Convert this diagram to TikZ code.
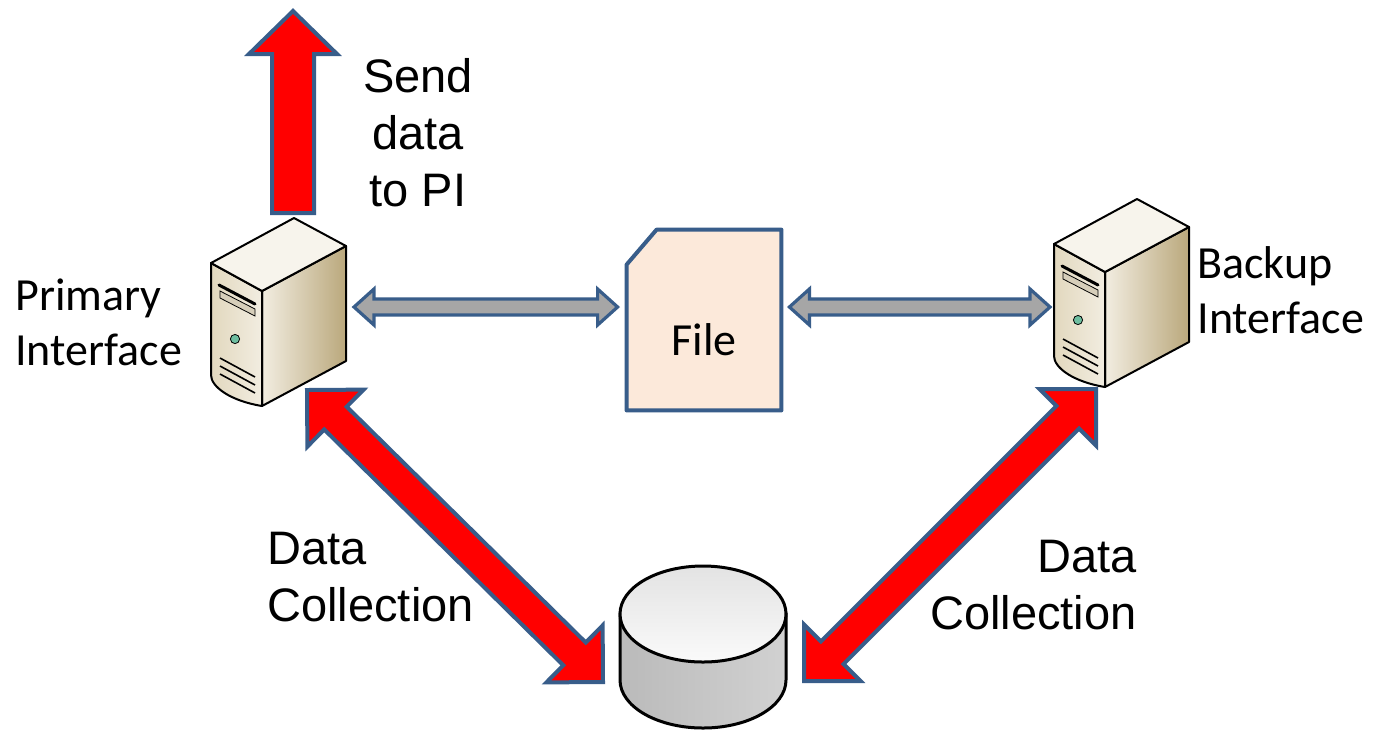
\documentclass[tikz,border=0pt]{standalone}
\usepackage{fontspec}
\setmainfont{Liberation Sans}
\newfontfamily\calibrifont{Carlito}
\usetikzlibrary{calc,backgrounds}

\definecolor{outlineblue}{RGB}{56,93,138}
\definecolor{arrowred}{RGB}{255,0,0}
\definecolor{arrowgray}{RGB}{166,166,166}
\definecolor{filefill}{RGB}{252,233,218}
\definecolor{servertop}{RGB}{247,244,236}
\definecolor{serverlight}{RGB}{242,237,225}
\definecolor{serverfront}{RGB}{226,216,190}
\definecolor{serverdark}{RGB}{186,168,124}
\definecolor{serverslot}{RGB}{214,206,186}
\definecolor{ledgreen}{RGB}{110,190,160}

% fat arrow: style, tail, tip, head length, head half width, shaft half width
\newcommand{\blockarrow}[6]{%
	\coordinate (ba-h) at ($(#3)!#4!(#2)$);
	\draw[#1] (#3) -- ($(ba-h)!#5!90:(#2)$) -- ($(ba-h)!#6!90:(#2)$)
		-- ($(#2)!#6!-90:(#3)$) -- ($(#2)!#6!90:(#3)$)
		-- ($(ba-h)!#6!-90:(#2)$) -- ($(ba-h)!#5!-90:(#2)$) -- cycle;
}
% fat double arrow: style, end a, end b, head length, head half width, shaft half width
\newcommand{\blockdarrow}[6]{%
	\coordinate (bd-a) at ($(#2)!#4!(#3)$);
	\coordinate (bd-b) at ($(#3)!#4!(#2)$);
	\draw[#1] (#2) -- ($(bd-a)!#5!90:(#3)$) -- ($(bd-a)!#6!90:(#3)$)
		-- ($(bd-b)!#6!-90:(#2)$) -- ($(bd-b)!#5!-90:(#2)$) -- (#3)
		-- ($(bd-b)!#5!90:(#2)$) -- ($(bd-b)!#6!90:(#2)$)
		-- ($(bd-a)!#6!-90:(#3)$) -- ($(bd-a)!#5!-90:(#3)$) -- cycle;
}

\begin{document}
\begin{tikzpicture}[x=0.5pt, y=-0.5pt]
	\tikzset{redarrow/.style={
		fill=arrowred, draw=outlineblue, line width=2pt
	}}
	\tikzset{grayarrow/.style={
		fill=arrowgray, draw=outlineblue, line width=1.6pt
	}}
	\tikzset{filebox/.style={
		fill=filefill, draw=outlineblue, line width=2pt, line join=round
	}}
	\tikzset{serverline/.style={
		draw=black, line width=1pt, line join=round
	}}
	\tikzset{arialtext/.style={
		inner sep=0pt, font=\fontsize{23.5pt}{28.5pt}\selectfont
	}}
	\tikzset{calibritext/.style={
		inner sep=0pt, font=\calibrifont\fontsize{23pt}{27.5pt}\selectfont
	}}
	\tikzset{pics/server/.style={code={
		% side
		\draw[serverline, left color=serverlight, right color=serverdark] (51,28) -- (135,-17) -- (135,98) -- (51,143) -- cycle;
		% front
		\draw[serverline, left color=serverfront, right color=serverlight] (0,0) -- (51,28) -- (51,143) .. controls (20,138) and (0,124) .. (0,112) -- cycle;
		% top
		\draw[serverline, fill=servertop] (0,0) -- (83,-45) -- (135,-17) -- (51,28) -- cycle;
		% bay, led, vents
		\draw[line width=1.5pt, line cap=round] (8,22) -- (44,41);
		\draw[thin, fill=serverslot] (9,28) -- (44,46) -- (44,53) -- (9,35) -- cycle;
		\draw[thin, fill=ledgreen] (24,76) circle (2.3pt);
		\foreach \y in {95,103,111}
			\draw[line width=0.8pt] (9,\y) -- (44,\y+19);
	}}}

	\useasboundingbox (0,0) rectangle (1385,730);
	\begin{pgfonlayer}{background}
		\fill[white] (0,0) rectangle (1385,730);
	\end{pgfonlayer}

	% Servers
	\pic (primary) at (211,263) {server};
	\pic (backup) at (1054,244) {server};

	% Captions
	\node (primary_lbl) [calibritext, align=left, anchor=north west] at (15,278) {Primary\\Interface};
	\node (backup_lbl) [calibritext, align=left, anchor=north west] at (1197,246) {Backup\\Interface};
	\node (send_lbl) [arialtext, align=center, anchor=north] at (418,58) {Send\\data\\to PI};
	\node (dc_left) [arialtext, align=left, anchor=north west] at (267,532) {Data\\Collection};
	\node (dc_right) [arialtext, align=right, anchor=north east] at (1137,540) {Data\\Collection};

	% File
	\node (file) [inner sep=0pt, minimum width=77pt, minimum height=90pt, text height=35pt, text depth=0pt, font=\calibrifont\fontsize{23pt}{27.5pt}\selectfont] at (704,320) {File};
	\begin{pgfonlayer}{background}
		\draw[filebox] ([yshift=-17.5pt]file.north west) -- ([xshift=15pt]file.north west) -- (file.north east) -- (file.south east) -- (file.south west) -- cycle;
	\end{pgfonlayer}

	% Database
	\coordinate (db) at (703,614);
	\draw[line width=1.5pt, left color=black!27, middle color=black!8, right color=black!18] ([xshift=-41.5pt]db) -- ++(0,66) arc[start angle=180, end angle=360, x radius=41.5pt, y radius=24pt] -- ++(0,-66) -- cycle;
	\draw[line width=1.5pt, top color=black!11, bottom color=black!2] (db) ellipse [x radius=41.5pt, y radius=24pt];

	% Ends of the connectors
	\coordinate (primary_top) at (293,213);
	\coordinate (send_tip) at (293,11);
	\coordinate (primary_e) at (354,307);
	\coordinate [xshift=-4.5pt] (file_w) at (file.west |- primary_e);
	\coordinate [xshift=4pt] (file_e) at (file.east |- primary_e);
	\coordinate (backup_w) at (1050,307);
	\coordinate (primary_s) at (307,390);
	\coordinate (db_nw) at (603,682);
	\coordinate (backup_s) at (1096,389);
	\coordinate (db_ne) at (804,681);

	% Send data to PI
	\blockarrow{redarrow}{primary_top}{send_tip}{21.5pt}{22pt}{10.5pt}

	% Primary <-> File <-> Backup
	\blockdarrow{grayarrow}{primary_e}{file_w}{10pt}{9pt}{4pt}
	\blockdarrow{grayarrow}{file_e}{backup_w}{10pt}{9pt}{4pt}

	% Data collection
	\blockdarrow{redarrow}{primary_s}{db_nw}{20pt}{20pt}{8pt}
	\blockdarrow{redarrow}{backup_s}{db_ne}{20pt}{20pt}{8pt}
\end{tikzpicture}
\end{document}
